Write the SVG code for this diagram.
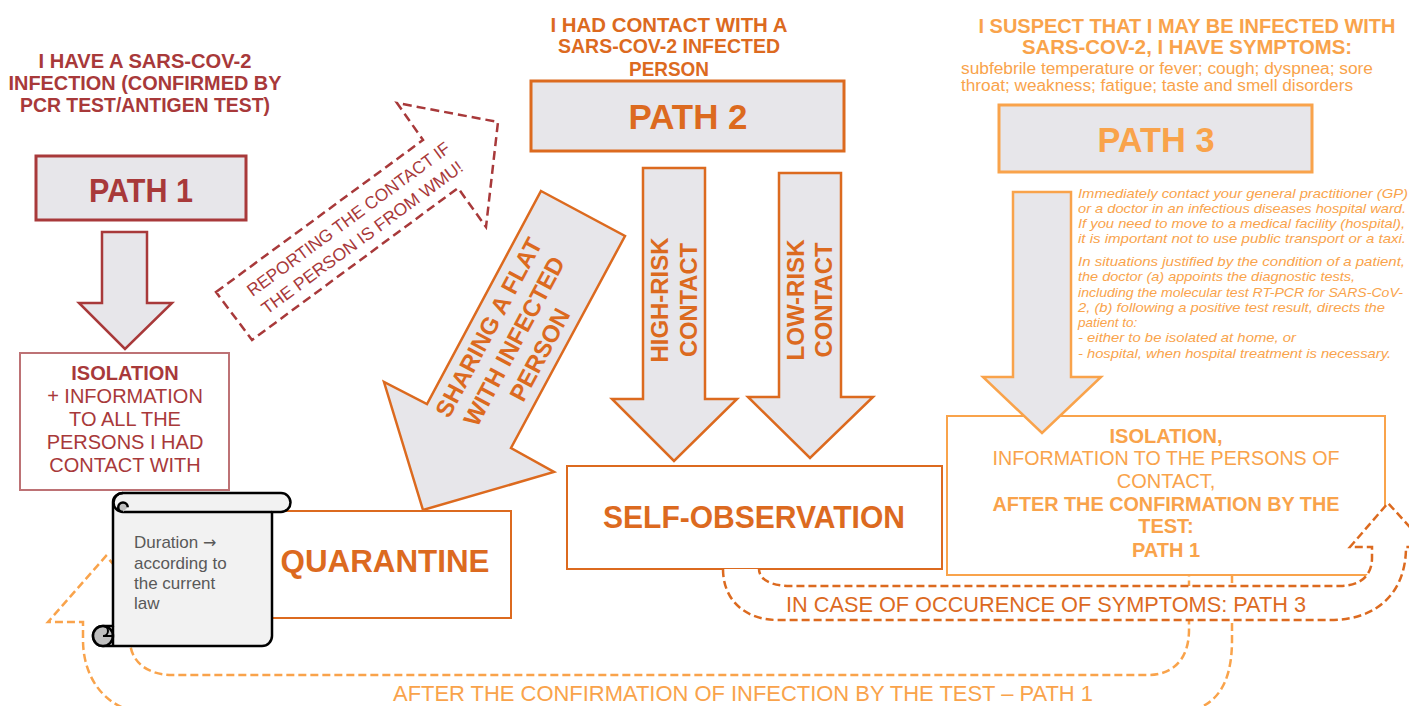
<svg xmlns="http://www.w3.org/2000/svg" width="1409" height="706" viewBox="0 0 1409 706">
<style>
text{font-family:"Liberation Sans",Arial,sans-serif}
.b{font-weight:bold}
.red{fill:#A8393A}
.org{fill:#DC6A1F}
.lor{fill:#F9A34B}
.m{text-anchor:middle}
.box1{fill:#E7E6EA;stroke:#A8393A;stroke-width:3}
.box2{fill:#E7E6EA;stroke:#DC6A1F;stroke-width:3}
.box3{fill:#E7E6EA;stroke:#F9A34B;stroke-width:3}
.arr1{fill:#E7E6EA;stroke:#A8393A;stroke-width:2.5;stroke-linejoin:miter}
.arr2{fill:#E7E6EA;stroke:#DC6A1F;stroke-width:2.5;stroke-linejoin:miter}
.arr3{fill:#E7E6EA;stroke:#F9A34B;stroke-width:2.5;stroke-linejoin:miter}
.dred{fill:#fff;stroke:#A8393A;stroke-width:2.5;stroke-dasharray:9 5}
.dorg{fill:#fff;stroke:#DC6A1F;stroke-width:2.5;stroke-dasharray:8 4}
.dlor{fill:#fff;stroke:#F9A34B;stroke-width:2.5;stroke-dasharray:8 4}
.it{font-style:italic;font-size:13.5px}
</style>

<g id="connectors">
  <g id="conn-after-confirmation">
    <path class="dlor" d="M1232,575 V640 C1232,690 1212,713 1170,713 H150 C108,713 83,680 83,640 V622 H48 L106,556 L165,622 H130 V640 C130,662 148,675 172,675 H1148 C1172,675 1189,660 1189,630 V575"/>
    <text class="lor m" x="743" y="701" font-size="21.5" textLength="700" lengthAdjust="spacingAndGlyphs">AFTER THE CONFIRMATION OF INFECTION BY THE TEST – PATH 1</text>
  </g>
</g>

<g id="title1">
  <text class="b red m" x="145" y="68" font-size="21" textLength="213" lengthAdjust="spacingAndGlyphs">I HAVE A SARS-COV-2</text>
  <text class="b red m" x="145" y="90" font-size="21" textLength="273" lengthAdjust="spacingAndGlyphs">INFECTION (CONFIRMED BY</text>
  <text class="b red m" x="145" y="112" font-size="21" textLength="250" lengthAdjust="spacingAndGlyphs">PCR TEST/ANTIGEN TEST)</text>
</g>
<g id="title2">
  <text class="b org m" x="669" y="32" font-size="21" textLength="237" lengthAdjust="spacingAndGlyphs">I HAD CONTACT WITH A</text>
  <text class="b org m" x="669" y="53" font-size="21" textLength="222" lengthAdjust="spacingAndGlyphs">SARS-COV-2 INFECTED</text>
  <text class="b org m" x="669" y="76" font-size="21" textLength="80" lengthAdjust="spacingAndGlyphs">PERSON</text>
</g>
<g id="title3">
  <text class="b lor m" x="1187" y="33" font-size="20" textLength="417" lengthAdjust="spacingAndGlyphs">I SUSPECT THAT I MAY BE INFECTED WITH</text>
  <text class="b lor m" x="1187" y="54" font-size="20.5" textLength="330" lengthAdjust="spacingAndGlyphs">SARS-COV-2, I HAVE SYMPTOMS:</text>
  <text class="lor" x="961" y="74" font-size="16" textLength="412" lengthAdjust="spacingAndGlyphs">subfebrile temperature or fever; cough; dyspnea; sore</text>
  <text class="lor" x="961" y="91" font-size="16" textLength="392" lengthAdjust="spacingAndGlyphs">throat; weakness; fatigue; taste and smell disorders</text>
</g>

<g id="path1">
  <rect class="box1" x="36" y="156" width="210" height="64"/>
  <text class="b red m" x="141" y="202" font-size="33" textLength="104" lengthAdjust="spacingAndGlyphs">PATH 1</text>
</g>
<g id="path2">
  <rect class="box2" x="531" y="81" width="313" height="70"/>
  <text class="b org m" x="688" y="129" font-size="35" textLength="119" lengthAdjust="spacingAndGlyphs">PATH 2</text>
</g>
<g id="path3">
  <rect class="box3" x="999" y="105" width="313" height="67"/>
  <text class="b lor m" x="1156" y="152" font-size="35" textLength="117" lengthAdjust="spacingAndGlyphs">PATH 3</text>
</g>

<g id="path3-info">
  <text class="it lor" x="1078" y="198" textLength="330" lengthAdjust="spacingAndGlyphs">Immediately contact your general practitioner (GP)</text>
  <text class="it lor" x="1078" y="213" textLength="328" lengthAdjust="spacingAndGlyphs">or a doctor in an infectious diseases hospital ward.</text>
  <text class="it lor" x="1078" y="228" textLength="327" lengthAdjust="spacingAndGlyphs">If you need to move to a medical facility (hospital),</text>
  <text class="it lor" x="1078" y="243" textLength="328" lengthAdjust="spacingAndGlyphs">it is important not to use public transport or a taxi.</text>
  <text class="it lor" x="1078" y="266" textLength="327" lengthAdjust="spacingAndGlyphs">In situations justified by the condition of a patient,</text>
  <text class="it lor" x="1078" y="281" textLength="277" lengthAdjust="spacingAndGlyphs">the doctor (a) appoints the diagnostic tests,</text>
  <text class="it lor" x="1078" y="297" textLength="325" lengthAdjust="spacingAndGlyphs">including the molecular test RT-PCR for SARS-CoV-</text>
  <text class="it lor" x="1078" y="312" textLength="307" lengthAdjust="spacingAndGlyphs">2, (b) following a positive test result, directs the</text>
  <text class="it lor" x="1078" y="327">patient to:</text>
  <text class="it lor" x="1078" y="342" textLength="218" lengthAdjust="spacingAndGlyphs">- either to be isolated at home, or</text>
  <text class="it lor" x="1078" y="358" textLength="313" lengthAdjust="spacingAndGlyphs">- hospital, when hospital treatment is necessary.</text>
</g>

<g id="isolation1">
  <rect x="20" y="353" width="209" height="137" fill="#fff" stroke="#BD7275" stroke-width="2"/>
  <text class="b red m" x="125" y="380" font-size="20">ISOLATION</text>
  <text class="red m" x="125" y="403" font-size="20">+ INFORMATION</text>
  <text class="red m" x="125" y="426" font-size="20">TO ALL THE</text>
  <text class="red m" x="125" y="449" font-size="20">PERSONS I HAD</text>
  <text class="red m" x="125" y="472" font-size="20">CONTACT WITH</text>
</g>
<g id="quarantine">
  <rect x="262" y="511" width="249" height="107" fill="#fff" stroke="#DC6A1F" stroke-width="2"/>
  <text class="b org m" x="385" y="572" font-size="31.5" textLength="209" lengthAdjust="spacingAndGlyphs">QUARANTINE</text>
</g>
<g id="self-observation">
  <rect x="567" y="466" width="375" height="103" fill="#fff" stroke="#DC6A1F" stroke-width="2"/>
  <text class="b org m" x="754" y="528" font-size="31" textLength="302" lengthAdjust="spacingAndGlyphs">SELF-OBSERVATION</text>
</g>
<g id="isolation3">
  <rect x="947" y="416" width="438" height="159" fill="#fff" stroke="#F9A34B" stroke-width="2"/>
  <text class="b lor m" x="1166" y="443" font-size="20">ISOLATION,</text>
  <text class="lor m" x="1166" y="465" font-size="20" textLength="347" lengthAdjust="spacingAndGlyphs">INFORMATION TO THE PERSONS OF</text>
  <text class="lor m" x="1166" y="488" font-size="20">CONTACT,</text>
  <text class="b lor m" x="1166" y="511" font-size="20" textLength="347" lengthAdjust="spacingAndGlyphs">AFTER THE CONFIRMATION BY THE</text>
  <text class="b lor m" x="1166" y="533" font-size="20">TEST:</text>
  <text class="b lor m" x="1166" y="557" font-size="20">PATH 1</text>
</g>

<g id="connectors-main">
  <polygon id="arrow-path1" class="arr1" points="102,232 147,232 147,303 172,303 125,349 79,303 102,303"/>
  <g id="arrow-reporting">
    <polygon class="dred" fill="none" points="216,292 423,140 397,103 498,122 486,227 458,188 252,340"/>
    <g transform="translate(355,228) rotate(-36.3)">
      <text class="red m" x="0" y="-5" font-size="17.5" textLength="247" lengthAdjust="spacingAndGlyphs">REPORTING THE CONTACT IF</text>
      <text class="red m" x="0" y="18" font-size="17.5" textLength="245" lengthAdjust="spacingAndGlyphs">THE PERSON IS FROM WMU!</text>
    </g>
  </g>
  <g id="arrow-sharing">
    <polygon class="arr2" points="541,191 625,236 511,448 554,472 423,510 384,382 427,404"/>
    <g transform="translate(514,341) rotate(-61.9)">
      <text class="b org m" x="0" y="-20.5" font-size="24">SHARING A FLAT</text>
      <text class="b org m" x="0" y="8.5" font-size="24">WITH INFECTED</text>
      <text class="b org m" x="0" y="37.5" font-size="24">PERSON</text>
    </g>
  </g>
  <g id="arrow-high-risk">
    <polygon class="arr2" points="643,168 705,168 705,399 737,399 674,461 612,399 643,399"/>
    <text class="b org m" transform="translate(668,300) rotate(-90)" font-size="24" textLength="125" lengthAdjust="spacingAndGlyphs">HIGH-RISK</text>
    <text class="b org m" transform="translate(697,300) rotate(-90)" font-size="24" textLength="114" lengthAdjust="spacingAndGlyphs">CONTACT</text>
  </g>
  <g id="arrow-low-risk">
    <polygon class="arr2" points="779,173 841,173 841,397 873,397 810,458 748,397 779,397"/>
    <text class="b org m" transform="translate(804,300) rotate(-90)" font-size="24" textLength="121" lengthAdjust="spacingAndGlyphs">LOW-RISK</text>
    <text class="b org m" transform="translate(832,300) rotate(-90)" font-size="24" textLength="115" lengthAdjust="spacingAndGlyphs">CONTACT</text>
  </g>
  <polygon id="arrow-path3" class="arr3" points="1013,192 1071,192 1071,377 1101,377 1042,433 983,377 1013,377"/>
  <g id="conn-symptoms">
    <path class="dorg" d="M723,569 C723,600 745,620 778,620 H1330 C1378,620 1406,592 1406,547 H1428 L1388,503 L1350,547 H1372 V558 C1372,576 1360,586 1340,586 H790 C772,586 759,580 759,569"/>
    <text class="org m" x="1046" y="612" font-size="21.5" textLength="520" lengthAdjust="spacingAndGlyphs">IN CASE OF OCCURENCE OF SYMPTOMS: PATH 3</text>
  </g>
</g>

<g id="duration-scroll">
  <path d="M123,493 H281 A9.5,9.5 0 0 1 281,512 H272 V636 A10,10 0 0 1 262,646 H103 A10,10 0 0 1 103,626 H113 V502 A10,9 0 0 1 123,493 Z" fill="#F2F2F2" stroke="#000" stroke-width="2.5" stroke-linejoin="round"/>
  <path d="M123,512 H272" fill="none" stroke="#000" stroke-width="2.5"/>
  <path d="M123,512 A4.75,4.75 0 0 1 123,502.5 A4.75,4.75 0 0 1 127.75,507.25 L123,512 Z" fill="#BFBFBF"/>
  <path d="M123,493 A9.5,9.5 0 0 0 123,512 A4.75,4.75 0 0 1 123,502.5 A4.75,4.75 0 0 1 127.75,507.25" fill="none" stroke="#000" stroke-width="2.5"/>
  <circle cx="103" cy="636" r="10" fill="#BFBFBF" stroke="#000" stroke-width="2.5"/>
  <path d="M103,626 A5,5 0 0 1 103,636 H113" fill="none" stroke="#000" stroke-width="2"/>
  <path d="M113,626 V646" fill="none" stroke="#000" stroke-width="2.5"/>
  <text x="134" y="548" font-size="17" fill="#595959">Duration <tspan font-family="DejaVu Sans" font-size="16">→</tspan></text>
  <text x="134" y="569" font-size="17" fill="#595959">according to</text>
  <text x="134" y="589" font-size="17" fill="#595959">the current</text>
  <text x="134" y="609" font-size="17" fill="#595959">law</text>
</g>
</svg>
